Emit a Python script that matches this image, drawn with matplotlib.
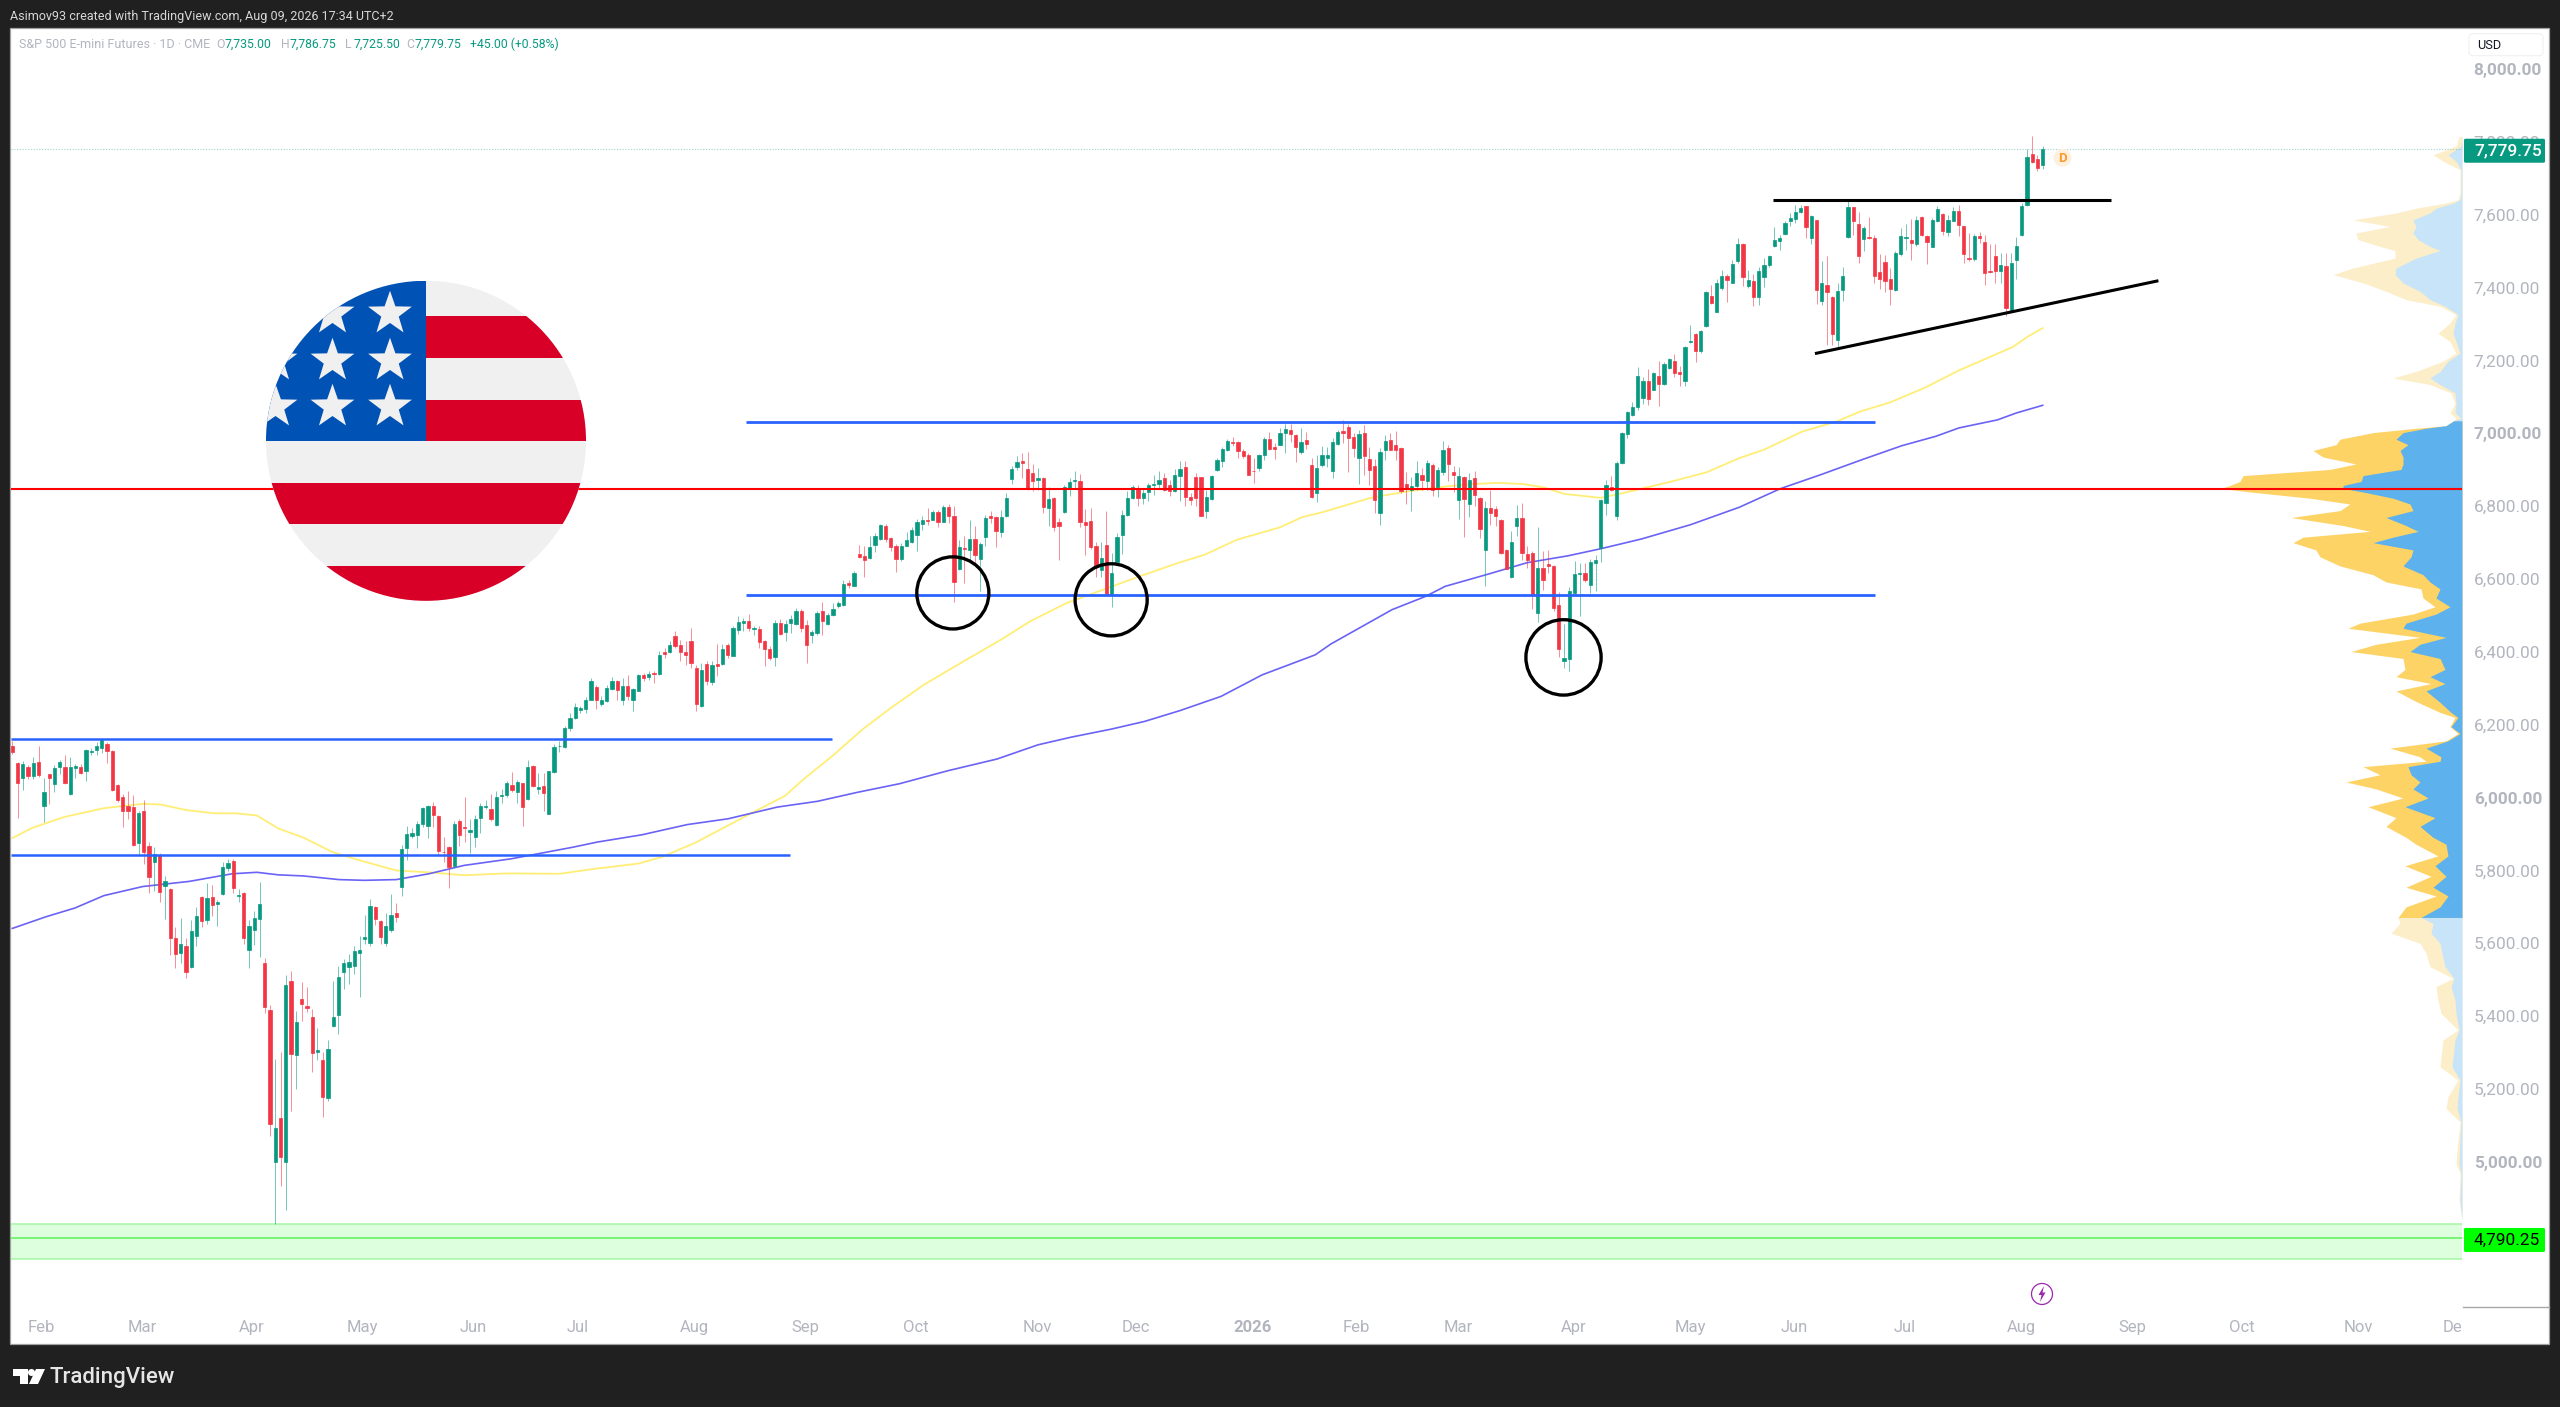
# -*- coding: utf-8 -*-
import numpy as np
import matplotlib
matplotlib.use("Agg")
import matplotlib.pyplot as plt
from matplotlib.patches import Rectangle, Circle, Ellipse, Polygon, FancyBboxPatch
from matplotlib.transforms import Bbox

plt.rcParams["font.family"] = ["Roboto", "DejaVu Sans"]

# ---- daily candles (price points)
body_top = [
    6142,6095,6091,6084,6094,6098,6015,6063,6081,6098,
    6084,6083,6086,6084,6130,6127,6142,6157,6146,6126,
    6035,6000,5977,5974,5957,5961,5866,5844,5841,5769,
    5748,5615,5598,5591,5633,5673,5725,5724,5725,5712,
    5809,5820,5825,5732,5737,5647,5668,5706,5546,5416,
    5091,5120,5485,5496,5384,5447,5426,5397,5307,5279,
    5310,5396,5506,5544,5547,5577,5581,5616,5702,5699,
    5661,5646,5677,5682,5858,5899,5902,5927,5970,5977,
    5975,5949,5851,5863,5927,5935,5918,5910,5940,5975,
    5975,5967,6000,6006,6040,6034,6043,6040,6084,6087,
    6027,6031,6071,6139,6142,
    6190,6218,6248,6244,6268,6318,6303,6267,6301,6318,
    6318,6306,6305,6297,6335,6337,6338,6341,6391,6399,
    6419,6444,6418,6399,6430,6354,6349,6367,6364,6366,
    6408,6419,6465,6482,6484,6483,6464,6463,6428,6408,
    6478,6479,6477,6489,6512,6510,6473,6454,6505,6510,
    6501,6517,6533,6586,6589,6616,6667,6663,6688,6716,
    6747,
    6744,6712,6691,6690,6706,6734,6755,6760,6760,6783,
    6783,6797,6797,6773,6688,6684,6709,6710,6696,6767,
    6773,6769,6769,6821,6902,6919,6923,6901,6891,6877,
    6877,6819,6822,6755,6852,6866,6871,6868,6755,6758,
    6690,6657,6692,6616,6714,6775,6822,6852,6848,6834,
    6857,6861,6872,6877,6858,6885,6902,6908,6824,6878,
    6878,6824,6882,
    6925,6956,6979,6975,6975,6951,6940,6897,6939,6983,
    6984,6962,7000,7010,7009,6994,6976,6982,6912,6905,
    6940,6940,6976,7003,7005,7016,6988,6997,7000,6929,
    6910,6948,6978,6980,6967,6960,6861,6854,6889,6885,
    6918,6912,6898,6954,6959,6894,6883,6878,6871,6877,
    6821,6795,6794,6790,6761,6679,6700,6768,6768,6668,
    6670,6629,6629,6641,6636,6529,6382,6565,6612,6615,
    6615,6645,6650,6817,6856,6851,6917,6999,
    7057,7071,7156,7144,7144,7166,7157,7190,7202,7199,
    7167,7237,7252,7272,7281,7386,7375,7413,7430,7430,
    7464,7520,7519,7420,7418,7445,7460,7485,7530,7534,
    7576,7591,7608,7618,7622,7595,7584,7411,7407,7373,
    7390,7430,7620,7620,7575,7564,7538,7536,7443,7469,
    7424,7494,7542,7538,7530,7586,7592,7540,7585,7614,
    7600,7585,7610,7610,7567,7480,7541,7540,7525,7445,
    7486,7461,7459,7467,7514,7623,7759,7767,7752,7780,
]
body_bot = [
    6125,6040,6053,6059,6059,6061,5975,6054,6037,6083,
    6040,6009,6079,6066,6073,6123,6130,6136,6128,6021,
    5992,5962,5963,5869,5875,5851,5782,5823,5739,5757,
    5615,5571,5572,5519,5533,5620,5661,5662,5705,5708,
    5734,5805,5752,5729,5615,5582,5637,5666,5424,5104,
    5000,5013,5000,5295,5292,5433,5421,5299,5301,5176,
    5175,5371,5402,5520,5535,5536,5573,5611,5601,5665,
    5616,5601,5636,5671,5754,5860,5895,5897,5927,5922,
    5952,5853,5850,5808,5811,5896,5917,5905,5892,5942,
    5973,5939,5924,6004,6006,6020,6014,5972,5995,6030,
    6024,6012,5955,6070,6140,
    6138,6190,6218,6239,6241,6268,6268,6256,6264,6297,
    6295,6268,6277,6268,6292,6328,6329,6339,6339,6394,
    6400,6416,6399,6390,6369,6257,6250,6318,6316,6361,
    6366,6391,6389,6460,6478,6465,6462,6426,6408,6382,
    6384,6449,6453,6479,6477,6466,6419,6445,6451,6483,
    6477,6499,6526,6529,6582,6581,6660,6652,6657,6693,
    6709,
    6709,6686,6654,6655,6690,6701,6720,6750,6758,6762,
    6756,6757,6773,6590,6627,6681,6679,6664,6654,6714,
    6768,6731,6727,6771,6874,6907,6917,6848,6868,6872,
    6796,6793,6741,6746,6782,6849,6869,6755,6748,6686,
    6633,6623,6559,6559,6647,6720,6775,6822,6821,6821,
    6837,6858,6859,6844,6840,6840,6881,6823,6816,6822,
    6773,6785,6819,
    6899,6924,6952,6973,6950,6938,6886,6896,6905,6939,
    6956,6956,6968,7000,6997,6961,6948,6970,6823,6835,
    6913,6932,6897,6970,7000,6986,6960,6931,6936,6899,
    6815,6779,6954,6954,6954,6840,6846,6844,6855,6872,
    6867,6844,6852,6894,6914,6884,6815,6819,6806,6830,
    6737,6680,6780,6772,6671,6628,6604,6744,6671,6652,
    6558,6505,6597,6635,6519,6407,6375,6379,6560,6612,
    6596,6583,6644,6684,6807,6844,6771,6917,
    6998,7050,7071,7096,7093,7119,7135,7135,7178,7165,
    7162,7144,7250,7224,7224,7293,7357,7333,7398,7419,
    7413,7471,7427,7403,7372,7372,7427,7460,7512,7527,
    7547,7581,7588,7607,7566,7534,7393,7361,7386,7273,
    7254,7392,7538,7581,7487,7533,7535,7432,7423,7417,
    7395,7392,7490,7536,7522,7518,7544,7523,7511,7581,
    7555,7552,7583,7572,7492,7478,7478,7534,7439,7441,
    7444,7446,7343,7337,7474,7543,7625,7743,7728,7735,
]
wick_hi = [
    6154,6098,6100,6089,6110,6140,6054,6064,6088,6102,
    6117,6110,6091,6091,6132,6135,6151,6164,6151,6130,
    6037,6010,6017,6007,5963,5993,5878,5863,5848,5785,
    5750,5645,5669,5615,5664,5699,5730,5765,5759,5718,
    5821,5831,5831,5748,5741,5662,5689,5767,5559,5429,
    5282,5300,5512,5522,5414,5493,5478,5418,5367,5302,
    5334,5495,5537,5557,5571,5591,5620,5676,5720,5701,
    5664,5683,5735,5710,5870,5922,5916,5936,5973,5980,
    5988,5950,5890,5865,5934,5939,6000,5939,5951,5985,
    5993,6010,6017,6022,6044,6069,6047,6040,6102,6088,
    6066,6066,6073,6147,6154,
    6195,6231,6259,6250,6275,6327,6309,6277,6309,6329,
    6323,6327,6337,6300,6338,6341,6346,6346,6401,6410,
    6428,6456,6433,6428,6465,6364,6369,6373,6373,6422,
    6422,6424,6469,6497,6492,6504,6471,6469,6433,6414,
    6488,6489,6488,6499,6520,6517,6488,6460,6510,6535,
    6506,6533,6538,6597,6597,6620,6693,6689,6716,6726,
    6751,
    6750,6714,6696,6698,6727,6741,6764,6773,6794,6789,
    6789,6803,6805,6800,6705,6716,6760,6744,6702,6776,
    6785,6773,6789,6835,6910,6938,6945,6948,6915,6904,
    6879,6852,6824,6767,6858,6876,6895,6888,6791,6794,
    6700,6702,6785,6670,6725,6789,6840,6858,6858,6849,
    6863,6885,6897,6890,6872,6901,6922,6922,6835,6890,
    6878,6844,6885,
    6931,6962,6983,6989,6979,6956,6945,6931,6943,6989,
    7002,6973,7014,7026,7026,6998,7014,7002,6931,6940,
    6963,6962,6986,7009,7037,7026,7000,7009,7023,6962,
    6929,6959,6995,7000,7005,6962,6892,6879,6922,6904,
    6925,6918,6908,6979,6968,6910,6907,6883,6890,6895,
    6824,6812,6844,6799,6764,6682,6730,6803,6808,6689,
    6677,6741,6675,6679,6638,6563,6476,6577,6649,6643,
    6643,6654,6666,6818,6871,6882,6922,7002,
    7059,7084,7181,7153,7176,7167,7197,7194,7205,7218,
    7185,7240,7297,7274,7282,7390,7406,7424,7448,7437,
    7474,7535,7521,7448,7437,7456,7480,7489,7565,7544,
    7581,7604,7627,7627,7624,7599,7584,7471,7487,7375,
    7413,7457,7636,7620,7606,7569,7593,7544,7492,7489,
    7453,7499,7563,7575,7587,7596,7596,7544,7589,7624,
    7604,7599,7620,7627,7569,7549,7547,7553,7544,7520,
    7520,7494,7494,7494,7538,7631,7779,7814,7764,7787,
]
wick_lo = [
    6120,5944,6019,6051,6051,6056,5931,5981,6014,6064,
    6037,6007,6054,6064,6046,6115,6115,6122,6095,6017,
    5988,5919,5939,5867,5841,5816,5738,5743,5713,5667,
    5566,5530,5544,5505,5532,5593,5645,5652,5675,5646,
    5733,5797,5738,5713,5596,5530,5594,5561,5409,5069,
    4828,4934,4866,5140,5199,5385,5410,5245,5279,5122,
    5165,5370,5349,5475,5488,5515,5451,5596,5591,5650,
    5598,5591,5630,5657,5729,5829,5887,5861,5919,5887,
    5919,5844,5821,5751,5806,5865,5878,5848,5863,5902,
    5968,5936,5922,5985,6002,6014,5983,5922,5993,6027,
    6010,5963,5953,6067,6125,
    6135,6181,6215,6231,6231,6268,6241,6250,6262,6295,
    6268,6254,6268,6236,6291,6318,6323,6314,6337,6382,
    6396,6410,6373,6362,6355,6236,6248,6309,6309,6332,
    6364,6382,6387,6449,6456,6456,6446,6410,6360,6378,
    6360,6446,6428,6451,6474,6453,6369,6424,6446,6446,
    6474,6497,6520,6524,6575,6579,6657,6605,6655,6674,
    6707,
    6702,6675,6618,6648,6689,6698,6677,6734,6748,6760,
    6742,6756,6753,6536,6625,6588,6648,6643,6567,6689,
    6753,6686,6714,6769,6861,6899,6876,6844,6840,6844,
    6780,6744,6730,6652,6780,6826,6846,6742,6666,6681,
    6606,6606,6556,6522,6646,6669,6773,6819,6799,6806,
    6812,6831,6849,6840,6826,6838,6812,6800,6803,6799,
    6771,6767,6817,
    6895,6908,6950,6965,6931,6931,6886,6863,6897,6927,
    6952,6929,6966,6945,6975,6919,6943,6956,6822,6811,
    6907,6908,6876,6968,6973,6893,6934,6861,6884,6858,
    6780,6747,6927,6952,6927,6835,6806,6787,6844,6844,
    6844,6828,6824,6886,6867,6837,6764,6714,6769,6799,
    6712,6581,6748,6746,6669,6627,6602,6718,6652,6629,
    6516,6480,6569,6615,6510,6385,6354,6348,6556,6498,
    6592,6562,6565,6647,6775,6842,6760,6915,
    6986,7046,7064,7080,7078,7117,7075,7133,7176,7155,
    7128,7128,7247,7194,7220,7291,7354,7331,7393,7359,
    7412,7467,7404,7398,7349,7352,7402,7457,7510,7501,
    7544,7567,7576,7604,7535,7520,7354,7352,7242,7242,
    7233,7361,7535,7544,7467,7500,7532,7412,7395,7386,
    7352,7389,7485,7501,7476,7514,7540,7464,7510,7579,
    7544,7542,7581,7542,7468,7471,7471,7521,7405,7439,
    7412,7412,7320,7334,7423,7540,7622,7741,7718,7726,
]
updown = (
    "RRGRGRGRGG" "RGGRGGGGRR" "RRRRGRRGRG" "RRGRGGRGRG" "GGRGRGGGRR"
    "GRGRGRRRGR" "GGGGGGGGGR" "RGGRGGGGGG" "RRRRGRRGGG" "GRGGGRGRGR" "GRGGG"
    "GGGGGGRGGG" "RGRGGRGRGR" "GRRRRRGRGR" "GRGGGRGRRR" "GRGGGRRGGR"
    "GGGGRGRRGG" "G"
    "RRRGGGGGRG" "RGRRGRGRGG" "RRGGGGRRRG" "RGRRGGGRRR" "RGRGGGGGRG"
    "GGGRRGGRRR" "RGG"
    "GGGRRRRRGG" "RRGGRRGRRG" "GGGGRRRGRR" "RGGRRRRGGR" "GRGGRRGRGR"
    "RGRRRRGGRR"
    "RGRRRRGGGG" "RGGGGRGG"
    "GGGGRGRGGR" "RGGRGGRGGR" "GGRGRGGGGG" "GGGGRGRGRR" "GGGRRGRRRR"
    "RGGGRGRRGG" "RGGRRRGRRR" "RGRGGGGRRG"
)

# ---- moving averages, (bar, price)
ma50_bar = [0,3.8,9.9,17.4,24.8,28.2,33,38.4,42.5,46.5,50.6,55.4,60.8,65.5,73,79.2,85.9,94,
            104.1,110.4,119,123.5,129.8,140.6,146.9,150.7,156.2,161.6,167,173.3,178.7,188,193.5,
            200.4,214.4,222,226.7,232.8,241,245.2,249.2,258.5,265.4,272.4,277.9,282.5,287.2,291,
            295,301.9,306.2,309.7,315.2,322.1,328.3,333,340.3,346.9,351.3,357,363.7,370.1,376,
            380.3,383.2,386]
ma50_val = [5888,5916,5946,5970,5982,5980,5965,5956,5956,5950,5914,5889,5850,5829,5799,5794,5786,5791,
            5790,5803,5818,5836,5875,5957,6004,6053,6117,6186,6245,6309,6355,6433,6483,
            6533,6607,6645,6666,6707,6741,6769,6783,6823,6840,6853,6860,6863,6860,6851,
            6833,6822,6835,6847,6866,6892,6931,6954,7004,7032,7059,7084,7125,7172,7209,
            7236,7265,7288]
ma200_bar = [0,6.4,11.9,17.4,24.8,33.6,41.8,46.5,50.6,55.4,62.1,66.9,73,79.2,85.9,94.8,
             106.6,111.2,119.7,128.3,136.1,145.4,153.1,160.8,168.6,177.9,187.2,195,201.3,208.9,215.2,
             222,229.8,237.6,247.7,250.7,262.3,268.6,272.4,280.2,288,295.8,301.9,309.7,319,328.3,
             336.1,343.7,351.7,359.2,365.7,370.1,377.4,381,386]
ma200_val = [5640,5672,5696,5730,5755,5769,5790,5794,5787,5784,5774,5772,5774,5790,5813,5831,
             5863,5877,5897,5925,5941,5973,5989,6014,6037,6073,6105,6144,6165,6187,6208,
             6238,6277,6336,6391,6421,6515,6551,6579,6611,6644,6663,6682,6709,6748,6796,
             6847,6885,6927,6965,6991,7014,7036,7055,7076]

# ---- volume profile: price row, up volume, total volume (arbitrary units)
vp_price = [7814,7787,7764,7746,7723,7704,7659,7640,7631,7617,7604,7585,7567,7549,7531,7512,7501,7480,
            7453,7435,7412,7389,7366,7348,7325,7302,7274,7251,7219,7197,7169,7151,7133,7110,7082,7055,7041,
            7034,7020,7013,7001,6983,6968,6952,6934,6915,6900,6883,6867,6856,6848,6838,6821,6805,6787,
            6768,6746,6730,6714,6699,6679,6660,6635,6611,6591,6572,6547,6523,6503,6478,6464,6439,6420,
            6400,6381,6351,6331,6312,6292,6263,6233,6219,6194,6175,6155,6135,6111,6099,6084,6062,6042,
            6023,5998,5974,5944,5920,5890,5871,5839,5812,5783,5753,5729,5699,5670,
            5654,5627,5599,5572,5535,5503,5480,5443,5407,5361,5334,5260,5224,5178,5146,5109,5059,4995,
            4968,4894,4840]
vp_up = [0,1,14,6,1,1,1,2,9,26,32,49,46,49,44,32,22,46,
         66,67,59,42,32,17,4,7,9,6,2,14,22,32,22,7,6,7,1,
         8,16,36,59,66,54,62,59,59,61,99,101,119,119,99,69,52,49,
         76,56,44,69,89,49,51,59,39,32,22,26,12,26,56,59,16,42,
         52,22,17,32,17,36,23,11,4,11,2,14,36,21,22,54,51,42,
         49,34,57,27,42,29,16,14,27,16,29,14,22,41,
         29,31,22,20,17,8,11,7,6,3,7,10,2,4,5,1,2,3,
         1,2,0]
vp_total = [3,6,29,19,2,2,2,4,17,46,66,109,72,106,104,82,67,67,
            109,129,99,76,56,22,6,12,24,12,6,19,46,69,32,11,7,12,6,
            8,16,46,89,122,126,149,139,106,132,219,222,232,241,212,152,112,122,
            171,119,92,159,169,146,142,122,89,76,41,39,27,49,102,114,42,86,
            111,59,57,66,31,66,46,22,7,12,4,16,72,42,36,99,82,116,
            86,59,94,66,76,56,46,24,57,31,56,26,56,64,
            62,71,42,36,32,9,26,24,21,4,19,22,4,14,16,2,4,6,
            2,3,0]

# ---- axis text
price_ticks = [8000,7800,7600,7400,7200,7000,6800,6600,6400,6200,6000,5800,5600,5400,5200,5000,4800]
time_bars = [5.5,24.7,45.4,66.5,87.6,107.5,129.6,150.7,171.8,194.8,213.6,235.7,255.6,274.8,
             296.9,319,338.7,359.8,381.9,403,423.9,446,464.8]
time_labels = ["Feb","Mar","Apr","May","Jun","Jul","Aug","Sep","Oct","Nov","Dec","2026",
               "Feb","Mar","Apr","May","Jun","Jul","Aug","Sep","Oct","Nov","Dec"]

# ---- drawn levels
last_close = 7779.75
zone_level, zone_top, zone_bot = 4790.25, 4828, 4733
red_level = 6847

# ---- layout: pixel sizes of the chart pane
W, H = 2560, 1407
bar_px = 5.26
price_px = 0.3642
pane_l, pane_r, pane_t, pane_b = 11, 2462, 28, 1307

up_col = "#089981"
dn_col = "#f23645"
grey = "#b2b5be"

fig = plt.figure(figsize=(W/100, (H+0.3)/100), dpi=100, facecolor="#202020")

# pixel overlay for the frame
ax_px = fig.add_axes([0, 0, 1, 1], zorder=0)
ax_px.set_xlim(0, W)
ax_px.set_ylim(H, 0)
ax_px.axis("off")
ax_px.add_patch(Rectangle((10, 28), 2539, 1316, fc="white", ec="#a0a0a0", lw=0.9))
ax_px.plot([2463, 2549], [1307, 1307], color="#a8a8a8", lw=1)

ax = fig.add_axes([pane_l/W, 1-pane_b/H, (pane_r-pane_l)/W, (pane_b-pane_t)/H], zorder=2)
ax.patch.set_visible(False)
for s in ax.spines.values():
    s.set_visible(False)

N = len(body_top)
last_x = 2042.7
bars = np.arange(N)
xmin = (N-1) - (last_x-pane_l)/bar_px
xmax = (N-1) + (pane_r-last_x)/bar_px
ymax = 8000 + (69-pane_t)/price_px
ymin = 8000 - (pane_b-69)/price_px
ax.set_xlim(xmin, xmax)
ax.set_ylim(ymin, ymax)

# volume profile sits under the pane lines
ax_vp = ax.twiny()
ax_vp.set_zorder(1)
ax_vp.patch.set_visible(False)
ax_vp.set_xlim(pane_r-pane_l, 0)
ax_vp.axis("off")
p = np.array(vp_price, dtype=float)
up = np.array(vp_up, dtype=float)
tot = np.array(vp_total, dtype=float)
inside = (p <= 7034) & (p >= 5670)
outside_hi = p >= 7034
outside_lo = p <= 5670
for mask, c_tot, c_up in [(inside, "#fdd366", "#5db1ec"),
                          (outside_hi, "#fdeeca", "#c7e4f9"),
                          (outside_lo, "#fdeeca", "#c7e4f9")]:
    ax_vp.fill_betweenx(p, 0, tot, where=mask, color=c_tot, lw=0)
    ax_vp.fill_betweenx(p, 0, up, where=mask, color=c_up, lw=0)

# green zone and levels
ax.axhspan(zone_bot, zone_top, color="#00ff00", alpha=0.13, lw=0, zorder=1)
ax.axhline(zone_top, color="#a4f7a4", lw=1.1, zorder=1)
ax.axhline(zone_bot, color="#a4f7a4", lw=1.1, zorder=1)
ax.axhline(zone_level, color="#5cf25c", lw=1.1, zorder=1)
ax.axhline(last_close, color=up_col, lw=0.8, ls=(0, (1, 1.5)), alpha=0.4, zorder=1)

# moving averages
off = N - 1 - 386
ax.plot(np.array(ma50_bar)+off, ma50_val, color="#ffee75", lw=1.3, zorder=2)
ax.plot(np.array(ma200_bar)+off, ma200_val, color="#6a63f5", lw=1.2, zorder=2)

# candles
colors = [up_col if d == "G" else dn_col for d in updown]
ax.vlines(bars, wick_lo, wick_hi, colors=colors, lw=0.72, alpha=0.55, zorder=3)
ax.bar(bars, np.array(body_top)-np.array(body_bot), bottom=body_bot, width=0.62,
       color=colors, edgecolor=colors, lw=0.5, zorder=3)

# horizontal levels and trend lines from the author
ax.hlines(6160, xmin, 155.8, color="#2962ff", lw=1.8, zorder=4)
ax.hlines(5841, xmin, 147.8, color="#2962ff", lw=1.8, zorder=4)
ax.hlines([6555, 7029], 139.5, 354.1, color="#2962ff", lw=2.0, zorder=4)
ax.axhline(red_level, color="#ff0000", lw=1.5, zorder=4)
ax.plot([334.7, 399], [7640, 7640], color="black", lw=2.2, solid_capstyle="butt", zorder=5)
ax.plot([342.7, 408], [7218, 7418], color="black", lw=2.2, solid_capstyle="butt", zorder=5)
for cx, cy, w, h in [(178.8, 6561, 13.7, 198), (208.9, 6542, 13.7, 198), (294.9, 6384, 14.3, 207)]:
    ax.add_patch(Ellipse((cx, cy), w, h, fc="none", ec="black", lw=2.4, zorder=5))

# ticks
ax.yaxis.tick_right()
ax.set_yticks(price_ticks)
ax.set_yticklabels([f"{v:,.2f}" for v in price_ticks], fontsize=12.4, color=grey, ha="left")
ax.set_xticks(time_bars)
ax.set_xticklabels(time_labels, fontsize=12, color=grey)
ax.tick_params(axis="both", length=0)
ax.tick_params(axis="y", pad=8.4)
ax.tick_params(axis="x", pad=9.5)
for lab, v in zip(ax.get_yticklabels(), price_ticks):
    if v % 1000 == 0:
        lab.set_fontweight("bold")
for lab, t in zip(ax.get_xticklabels(), time_labels):
    if t == "2026":
        lab.set_fontweight("bold")
ax.get_xticklabels()[-1].set_clip_on(True)
ax.get_xticklabels()[-1].set_clip_box(Bbox([[0, 0], [pane_r, H]]))

# top layer in pixels: flag, labels, logo
top = fig.add_axes([0, 0, 1, 1], zorder=3)
top.set_xlim(0, W)
top.set_ylim(H, 0)
top.axis("off")
top.patch.set_visible(False)

# flag badge
fx, fy, fr = 426, 441, 160
clip = Circle((fx, fy), fr, transform=top.transData)
def flag_patch(patch):
    top.add_patch(patch)
    patch.set_clip_path(clip)
flag_patch(Rectangle((fx-fr, fy-fr), 2*fr, 2*fr, fc="#f0f0f0", lw=0))
for y0, y1 in [(316, 358), (400, 441), (483, 524.5), (566, 610)]:
    flag_patch(Rectangle((fx, y0) if y0 < 441 else (fx-fr, y0), fr if y0 < 441 else 2*fr, y1-y0,
                         fc="#d80027", lw=0))
flag_patch(Rectangle((fx-fr, fy-fr), fr, fr, fc="#0052b4", lw=0))
for sx, sy in [(390, 314), (332.5, 314), (390, 361), (332.5, 361), (275.5, 361),
               (390, 407), (332.5, 407), (275.5, 407)]:
    ang = np.deg2rad(-90 + 36*np.arange(10))
    rad = np.where(np.arange(10) % 2 == 0, 23, 9.2)
    flag_patch(Polygon(np.c_[sx+rad*np.cos(ang), sy+rad*np.sin(ang)], fc="#f0f0f0", lw=0))

# header and legend
top.text(10, 16, "Asimov93 created with TradingView.com, Aug 09, 2026 17:34 UTC+2",
         color="#d8d8d8", fontsize=9.0, va="center")
top.text(19, 44, "S&P 500 E-mini Futures \u00b7 1D \u00b7 CME", color=grey, fontsize=9.0, va="center")
for x0, key, val in [(216, "O", "7,735.00"), (281, "H", "7,786.75"),
                     (345, "L", "7,725.50"), (406, "C", "7,779.75")]:
    top.text(x0, 44, key, color=grey, fontsize=8.8, va="center")
    top.text(x0+9, 44, val, color=up_col, fontsize=8.8, va="center")
top.text(470, 44, "+45.00 (+0.58%)", color=up_col, fontsize=8.8, va="center")

# USD box
top.add_patch(FancyBboxPatch((2469, 34), 74, 22, boxstyle="round,pad=0,rounding_size=4",
                             fc="white", ec="#f0f0f0", lw=0.8))
top.text(2477, 45, "USD", color="#131722", fontsize=9.2, va="center")

# price labels
top.add_patch(FancyBboxPatch((2464, 139), 81, 24, boxstyle="round,pad=0,rounding_size=1.5",
                             fc=up_col, ec="none"))
top.text(2474, 151, "7,779.75", color="white", fontsize=12.4, va="center", fontweight="medium")
top.add_patch(FancyBboxPatch((2464, 1228), 81, 24, boxstyle="round,pad=0,rounding_size=1.5",
                             fc="#00ff00", ec="none"))
top.text(2474, 1240, "4,790.25", color="black", fontsize=12.4, va="center")

# small D badge and lightning marker
top.add_patch(Circle((2062.6, 158), 9, fc="#fdf0df", ec="none"))
top.text(2062.6, 158, "D", color="#ff9a2e", fontsize=9.5, ha="center", va="center", fontweight="bold")
top.add_patch(Circle((2042, 1294), 10.5, fc="white", ec="#9c27b0", lw=0.9))
top.add_patch(Polygon([(2044, 1286), (2038.5, 1295), (2041.5, 1295), (2040, 1302), (2045.5, 1292.5), (2042.5, 1292.5)],
                      fc="#9c27b0", lw=0))

# footer logo
top.add_patch(Polygon([(13, 1369), (28, 1369), (28, 1384), (20, 1384), (20, 1376), (13, 1376)], fc="white", lw=0))
top.add_patch(Circle((31.5, 1372.5), 3.5, fc="white", lw=0))
top.add_patch(Polygon([(36, 1369), (45, 1369), (38, 1384), (29, 1384)], fc="white", lw=0))
top.text(50, 1377, "TradingView", color="#e6e6e6", fontsize=16, va="center", fontweight="medium")

fig.savefig("out.png", dpi=100, facecolor=fig.get_facecolor())
